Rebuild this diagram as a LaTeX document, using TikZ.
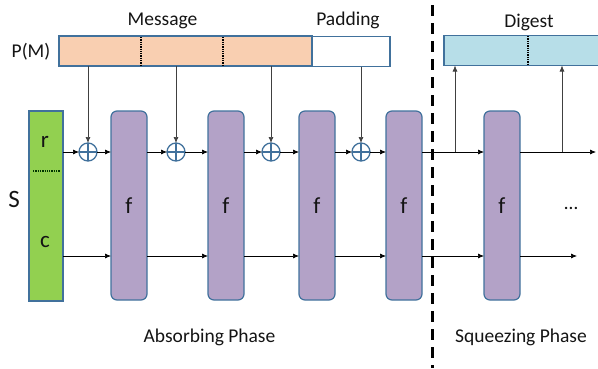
\documentclass[tikz,border=0pt]{standalone}
\usepackage{fontspec}
\setmainfont{Carlito}
\usetikzlibrary{arrows.meta}
\definecolor{bord}{HTML}{41719C}
\definecolor{peach}{HTML}{F9CFB1}
\definecolor{lblue}{HTML}{B7DEE8}
\definecolor{lav}{HTML}{B3A2C7}
\definecolor{lgreen}{HTML}{92D050}
\definecolor{txt}{HTML}{141414}
\begin{document}
\begin{tikzpicture}[x=1pt,y=-1pt,
  every node/.style={inner sep=0pt,outer sep=0pt,font=\fontsize{19.5}{22}\selectfont,text=txt},
  big/.style={font=\fontsize{23}{26}\selectfont},
  bar/.style={draw=bord,line width=1.2pt,minimum height=30pt},
  fbox/.style={draw=bord,line width=1.2pt,fill=lav,rounded corners=6pt,minimum width=36pt,minimum height=189pt},
  xor/.style={circle,draw=bord,line width=1.3pt,fill=white,minimum size=18pt},
  lbl/.style={anchor=base},
  arr/.style={-{Latex[length=6pt,width=5pt]},line width=0.7pt,black},
  feed/.style={-{Latex[length=6pt,width=5pt]},line width=0.7pt,black!75},
  divider/.style={densely dotted,line width=1.3pt,black}
]
\useasboundingbox (0,0) rectangle (598,368);

% top bars
\node[bar,fill=peach,minimum width=253pt] (msg) at (185.5,51) {};
\node[bar,fill=white,minimum width=78pt] (pad) at (351,51.5) {};
\node[bar,fill=lblue,minimum width=160pt] (dig) at (524,50.5) {};
\draw[divider] (141,37) -- (141,65);
\draw[divider] (223,37) -- (223,65);
\draw[divider] (528,36) -- (528,65);

% labels
\node[lbl] (lmsg) at (162.5,25) {Message};
\node[lbl] (lpad) at (348,25) {Padding};
\node[lbl] (ldig) at (529,27) {Digest};
\node[lbl] (lpm) at (31,57) {P(M)};
\node[lbl,font=\fontsize{25}{28}\selectfont] (ls) at (14,207) {S};
\node[lbl] (labs) at (209.5,342) {Absorbing Phase};
\node[lbl] (lsq) at (521,342) {Squeezing Phase};
\node[lbl] (dots) at (571,209) {…};

% state box
\node[draw=bord,line width=1.2pt,fill=lgreen,minimum width=34pt,minimum height=190pt] (S) at (46,206) {};
\node[lbl,big] (lr) at (45,147.5) {r};
\node[lbl,big] (lc) at (45,247) {c};
\draw[densely dotted,line width=1.3pt,black!80!green] (33,171) -- (60,171);

% f boxes
\node[fbox] (f1) at (129,205.5) {};
\node[fbox] (f2) at (226,205.5) {};
\node[fbox] (f3) at (317,205.5) {};
\node[fbox] (f4) at (404,205.5) {};
\node[fbox] (f5) at (502,205.5) {};
\foreach \i in {1,...,5} \node[lbl,big] at ([yshift=-7.5pt]f\i.center) {f};

% xor nodes
\foreach \n/\x in {x1/88,x2/176,x3/271,x4/361}{
  \node[xor] (\n) at (\x,152) {};
  \draw[bord,line width=1.3pt] (\n.north) -- (\n.south) (\n.west) -- (\n.east);
}

% rows
\coordinate (rowR) at (0,152);
\coordinate (rowC) at (0,256);
\coordinate (tap1) at (455,152);
\coordinate (tap2) at (562,152);
\coordinate (endR) at (596,152);
\coordinate (endC) at (577,256);

% rate row
\draw[arr] (S.east |- rowR) -- (x1.west);
\draw[arr] (x1.east) -- (f1.west |- rowR);
\draw[arr] (f1.east |- rowR) -- (x2.west);
\draw[arr] (x2.east) -- (f2.west |- rowR);
\draw[arr] (f2.east |- rowR) -- (x3.west);
\draw[arr] (x3.east) -- (f3.west |- rowR);
\draw[arr] (f3.east |- rowR) -- (x4.west);
\draw[arr] (x4.east) -- (f4.west |- rowR);
\draw[arr] (f4.east |- rowR) -- (f5.west |- rowR);
\draw[arr] (f5.east |- rowR) -- (endR);

% capacity row
\draw[arr] (S.east |- rowC) -- (f1.west |- rowC);
\draw[arr] (f1.east |- rowC) -- (f2.west |- rowC);
\draw[arr] (f2.east |- rowC) -- (f3.west |- rowC);
\draw[arr] (f3.east |- rowC) -- (f4.west |- rowC);
\draw[arr] (f4.east |- rowC) -- (f5.west |- rowC);
\draw[arr] (f5.east |- rowC) -- (endC);

% message feeds
\draw[feed] (msg.south -| x1) -- (x1.north);
\draw[feed] (msg.south -| x2) -- (x2.north);
\draw[feed] (msg.south -| x3) -- (x3.north);
\draw[feed] (pad.south -| x4) -- (x4.north);

% digest outputs
\draw[feed] (tap1) -- (dig.south -| tap1);
\draw[feed] (tap2) -- (dig.south -| tap2);

% phase separator
\draw[line width=3pt,dash pattern=on 11pt off 7pt,black] (432,5) -- (432,368);
\end{tikzpicture}
\end{document}
